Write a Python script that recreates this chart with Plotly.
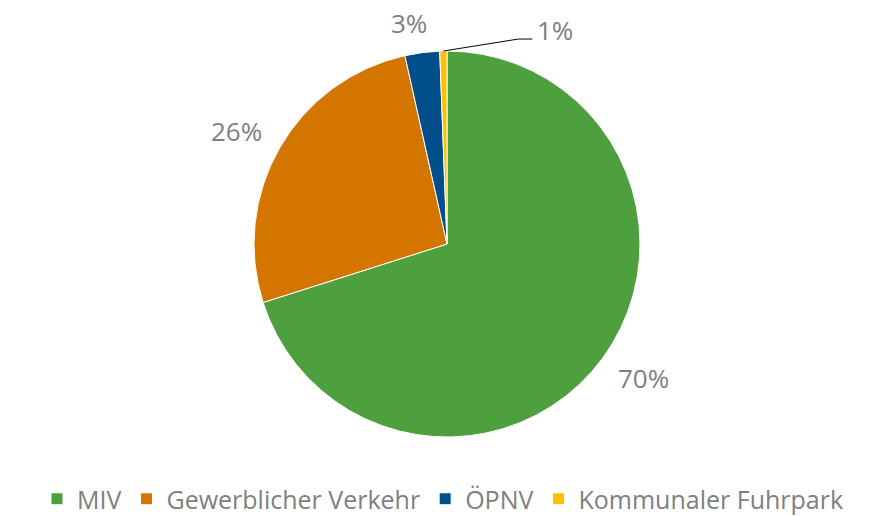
import math
import plotly.graph_objects as go

categories = ["MIV", "Gewerblicher Verkehr", "ÖPNV", "Kommunaler Fuhrpark"]
values = [70.1, 26.4, 2.9, 0.6]
colors = ["#4E9F3D", "#D47500", "#004F8B", "#FFC000"]

W, H = 879, 516
cx, cy, R = 447, 244, 193
LABEL_COLOR = "#7F7F7F"

fig = go.Figure(go.Pie(
    labels=categories,
    values=values,
    sort=False,
    direction="clockwise",
    rotation=0,
    marker=dict(colors=colors, line=dict(color="white", width=1)),
    textinfo="none",
    hoverinfo="label+percent",
    domain=dict(x=[(cx - R) / W, (cx + R) / W], y=[1 - (cy + R) / H, 1 - (cy - R) / H]),
))

total = sum(values)
cum = 0.0
label_r = [240, 240, 222, 0]
annotations = []
shapes = []
for i, v in enumerate(values):
    mid = (cum + v / 2) / total * 2 * math.pi
    cum += v
    pct = f"{round(v / total * 100):.0f}%"
    if i == 3:
        ex = cx + R * math.sin(mid)
        ey = cy - R * math.cos(mid)
        kx, ky = ex + 75, ey - 12
        hx = kx + 14
        shapes.append(dict(type="path", xref="paper", yref="paper",
                           path=f"M{ex / W},{1 - ey / H} L{kx / W},{1 - ky / H} L{hx / W},{1 - ky / H}",
                           line=dict(color="black", width=1)))
        annotations.append(dict(x=(hx + 3) / W, y=1 - (ky - 9) / H, xref="paper", yref="paper",
                                text=pct, showarrow=False, xanchor="left", yanchor="middle",
                                font=dict(size=26, color=LABEL_COLOR)))
    else:
        r = label_r[i]
        lx = cx + r * math.sin(mid)
        ly = cy - r * math.cos(mid)
        if i == 1:
            lx -= 2
            ly += 7
        if i == 0:
            lx += 3
            ly -= 8
        if i == 2:
            lx -= 9
            ly -= 1
        annotations.append(dict(x=lx / W, y=1 - ly / H, xref="paper", yref="paper",
                                text=pct, showarrow=False, xanchor="center", yanchor="middle",
                                font=dict(size=26, color=LABEL_COLOR)))

fig.update_layout(
    width=W, height=H,
    margin=dict(l=0, r=0, t=0, b=0, autoexpand=False),
    paper_bgcolor="white",
    font=dict(family="Open Sans", color=LABEL_COLOR),
    showlegend=True,
    legend=dict(orientation="h", x=443 / W, xanchor="center", y=1 - 499 / H, yanchor="middle",
                font=dict(size=25, color=LABEL_COLOR)),
    annotations=annotations,
    shapes=shapes,
)

fig.write_html("out.html", config={"displayModeBar": False},
               post_script="document.body.style.margin='0';")
